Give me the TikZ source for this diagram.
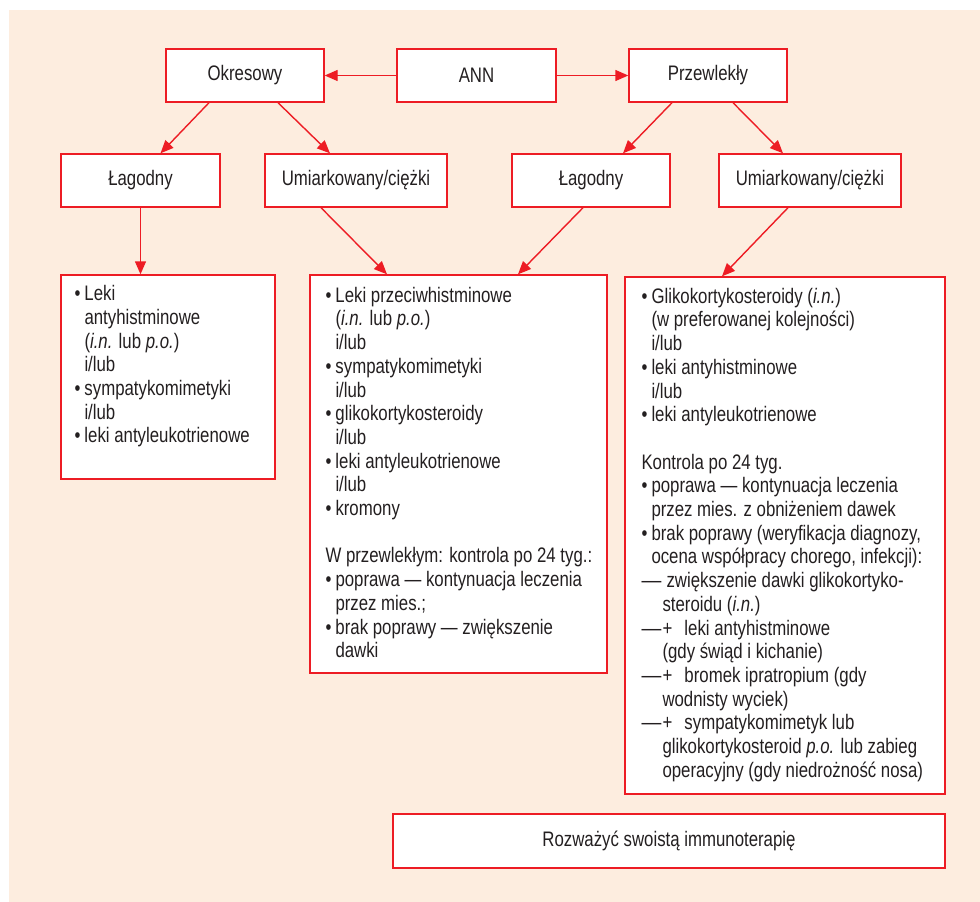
\documentclass[tikz,border=0pt]{standalone}
\usepackage{fontspec}
\setmainfont{Liberation Sans}[FakeStretch=0.8]
\usetikzlibrary{positioning, arrows.meta}
\definecolor{annred}{RGB}{237,28,36}
\definecolor{annbg}{RGB}{253,237,223}
\definecolor{anntext}{RGB}{35,31,32}

% list helpers
\newcommand{\bul}{\makebox[10pt][l]{\textbullet}}
\newcommand{\ind}{\hspace*{10pt}}
\newcommand{\longdash}{\scalebox{1.18}[1]{—}}
\newcommand{\dsh}{\makebox[25pt][l]{\longdash}}
\newcommand{\dplus}{\makebox[21pt][l]{\longdash}\makebox[22pt][l]{+}}
\newcommand{\dind}{\hspace*{21pt}}

\begin{document}
\begin{tikzpicture}[x=1pt,y=-1pt,>={Triangle[length=13pt,width=11pt]},
    box/.style={draw=annred, line width=1.4pt, fill=white, inner sep=0pt,
        minimum width=158pt, minimum height=53pt, text=anntext,
        font=\fontsize{21}{23.7}\selectfont},
    listtext/.style={anchor=north west, align=left, inner sep=0pt, text=anntext,
        font=\fontsize{21}{23.7}\selectfont},
    arr/.style={->, draw=annred, line width=1.4pt}]

    % --- Background panel ---
    \useasboundingbox (0,0) rectangle (980,902);
    \fill[annbg] (9,10) rectangle (980,902);

    % --- Top row ---
    \node[box, minimum width=159pt] (ann) at (476.5,75.5) {ANN};
    \node[box] (ok) at (245,75.5) {Okresowy};
    \node[box] (pr) at (708,75.5) {Przewlekły};

    % --- Second row: severity ---
    \node[box, minimum width=159pt] (lagA) at (140.5,180.5) {Łagodny};
    \node[box, minimum width=182pt] (umA) at (356,180.5) {Umiarkowany/ciężki};
    \node[box] (lagB) at (591,180.5) {Łagodny};
    \node[box, minimum width=182pt] (umB) at (810,180.5) {Umiarkowany/ciężki};

    % --- Treatment boxes ---
    \node[box, minimum width=214pt, minimum height=204pt] (boxA) at (168,377) {};
    \node[box, minimum width=297pt, minimum height=398pt] (boxB) at (458.5,474) {};
    \node[box, minimum width=320pt, minimum height=517pt] (boxC) at (785,535.5) {};
    \node[box, minimum width=552pt, minimum height=54pt] (imm) at (669,841)
        {Rozważyć swoistą immunoterapię};

    % left box
    \node[listtext] (txtA) at ([xshift=14pt,yshift=-11pt]boxA.north west)
        {\bul Leki\\
         \ind antyhistminowe\\
         \ind (\textit{i.n.} lub \textit{p.o.})\\
         \ind i/lub\\
         \bul sympatykomimetyki\\
         \ind i/lub\\
         \bul leki antyleukotrienowe};

    % middle box
    \node[listtext] (txtB) at ([xshift=16pt,yshift=-12.5pt]boxB.north west)
        {\bul Leki przeciwhistminowe\\
         \ind (\textit{i.n.} lub \textit{p.o.})\\
         \ind i/lub\\
         \bul sympatykomimetyki\\
         \ind i/lub\\
         \bul glikokortykosteroidy\\
         \ind i/lub\\
         \bul leki antyleukotrienowe\\
         \ind i/lub\\
         \bul kromony\\[23.7pt]
         W przewlekłym: kontrola po 24 tyg.:\\
         \bul poprawa — kontynuacja leczenia\\
         \ind przez mies.;\\
         \bul brak poprawy — zwiększenie\\
         \ind dawki};

    % right box
    \node[listtext] (txtC) at ([xshift=17pt,yshift=-11.5pt]boxC.north west)
        {\bul Glikokortykosteroidy (\textit{i.n.})\\
         \ind (w preferowanej kolejności)\\
         \ind i/lub\\
         \bul leki antyhistminowe\\
         \ind i/lub\\
         \bul leki antyleukotrienowe\\[23.7pt]
         Kontrola po 24 tyg.\\
         \bul poprawa — kontynuacja leczenia\\
         \ind przez mies. z obniżeniem dawek\\
         \bul brak poprawy (weryfikacja diagnozy,\\
         \ind ocena współpracy chorego, infekcji):\\
         \dsh zwiększenie dawki glikokortyko-\\
         \dind steroidu (\textit{i.n.})\\
         \dplus leki antyhistminowe\\
         \dind (gdy świąd i kichanie)\\
         \dplus bromek ipratropium (gdy\\
         \dind wodnisty wyciek)\\
         \dplus sympatykomimetyk lub\\
         \dind glikokortykosteroid \textit{p.o.} lub zabieg\\
         \dind operacyjny (gdy niedrożność nosa)};

    % --- Arrows ---
    \draw[arr] (ann.west) -- (ok.east);
    \draw[arr] (ann.east) -- (pr.west);
    \draw[arr] ([xshift=-36pt]ok.south) -- ([xshift=20pt]lagA.north);
    \draw[arr] ([xshift=33pt]ok.south) -- ([xshift=-26pt]umA.north);
    \draw[arr] ([xshift=-36pt]pr.south) -- ([xshift=32pt]lagB.north);
    \draw[arr] ([xshift=25pt]pr.south) -- ([xshift=-27pt]umB.north);
    \draw[arr] (lagA.south) -- (lagA.south |- boxA.north);
    \draw[arr] ([xshift=-35pt]umA.south) -- ([xshift=-71.5pt]boxB.north);
    \draw[arr] ([xshift=-8pt]lagB.south) -- ([xshift=59.5pt]boxB.north);
    \draw[arr] ([xshift=-22pt]umB.south) -- ([xshift=-63pt]boxC.north);

\end{tikzpicture}
\end{document}
